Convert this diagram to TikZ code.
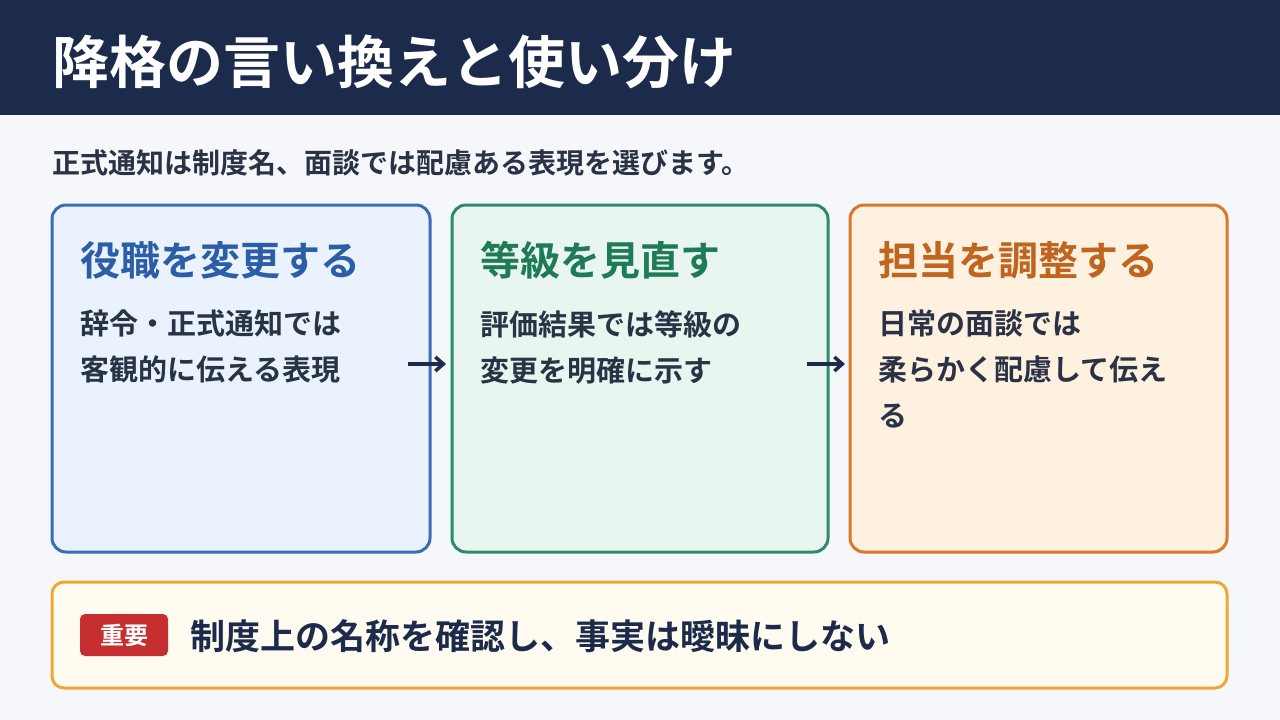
\documentclass[tikz,border=0pt]{standalone}
\usepackage{fontspec}
\setmainfont{Noto Sans CJK JP}[BoldFont={Noto Sans CJK JP Bold}]
\usetikzlibrary{arrows.meta}
\definecolor{navy}{HTML}{1C2B4B}
\definecolor{bg}{HTML}{F5F7FB}
\definecolor{txt}{HTML}{2A3346}
\definecolor{bB}{HTML}{3A6DB5}\definecolor{fB}{HTML}{EAF2FD}\definecolor{tB}{HTML}{2B5EA6}
\definecolor{bG}{HTML}{2E8B6A}\definecolor{fG}{HTML}{E8F6EF}\definecolor{tG}{HTML}{1E7A57}
\definecolor{bO}{HTML}{D9782A}\definecolor{fO}{HTML}{FEF1E0}\definecolor{tO}{HTML}{C0651F}
\definecolor{bY}{HTML}{F0A830}\definecolor{fY}{HTML}{FFFBF0}\definecolor{red}{HTML}{C62F2F}
\tikzset{
 card/.style={rounded corners=14pt,line width=3pt},
 ctitle/.style={anchor=west,inner sep=0,font=\fontsize{40}{46}\selectfont\bfseries},
 cbody/.style={anchor=north west,inner sep=0,align=left,text=txt,font=\fontsize{29}{46}\selectfont\bfseries},
 arr/.style={-{Straight Barb[length=8pt,width=14pt]},line width=3.5pt,draw=navy}
}
\begin{document}
\begin{tikzpicture}[x=1pt,y=-1pt]
\useasboundingbox (0,0) rectangle (1280,720);
\fill[bg] (0,0) rectangle (1280,720);
\fill[navy] (0,0) rectangle (1280,115);
\node[anchor=west,inner sep=0,text=white,font=\fontsize{57}{64}\selectfont\bfseries] (title) at (52,62) {降格の言い換えと使い分け};
\node[anchor=west,inner sep=0,text=txt,font=\fontsize{28}{32}\selectfont\bfseries] (sub) at (52,163) {正式通知は制度名、面談では配慮ある表現を選びます。};
\draw[card,draw=bB,fill=fB] (52,205) rectangle (430,552);
\draw[card,draw=bG,fill=fG] (452,205) rectangle (828,552);
\draw[card,draw=bO,fill=fO] (850,205) rectangle (1227,552);
\node[ctitle,text=tB] (t1) at (80,260) {役職を変更する};
\node[ctitle,text=tG] (t2) at (480,260) {等級を見直す};
\node[ctitle,text=tO] (t3) at (878,260) {担当を調整する};
\node[cbody] (b1) at (80,310) {辞令・正式通知では\\客観的に伝える表現};
\node[cbody] (b2) at (480,310) {評価結果では等級の\\変更を明確に示す};
\node[cbody] (b3) at (878,310) {日常の面談では\\柔らかく配慮して伝え\\る};
\coordinate (a1s) at (408,364); \coordinate (a1e) at (446,364);
\coordinate (a2s) at (807,364); \coordinate (a2e) at (845,364);
\draw[arr] (a1s) -- (a1e);
\draw[arr] (a2s) -- (a2e);
\draw[rounded corners=12pt,line width=3pt,draw=bY,fill=fY] (52,582) rectangle (1227,688);
\fill[red,rounded corners=5pt] (80,614) rectangle (168,656);
\node[inner sep=0,text=white,font=\fontsize{24}{28}\selectfont\bfseries] (tag) at (124,635) {重要};
\node[anchor=west,inner sep=0,text=navy,font=\fontsize{35}{40}\selectfont\bfseries] (note) at (190,636) {制度上の名称を確認し、事実は曖昧にしない};
\end{tikzpicture}
\end{document}
